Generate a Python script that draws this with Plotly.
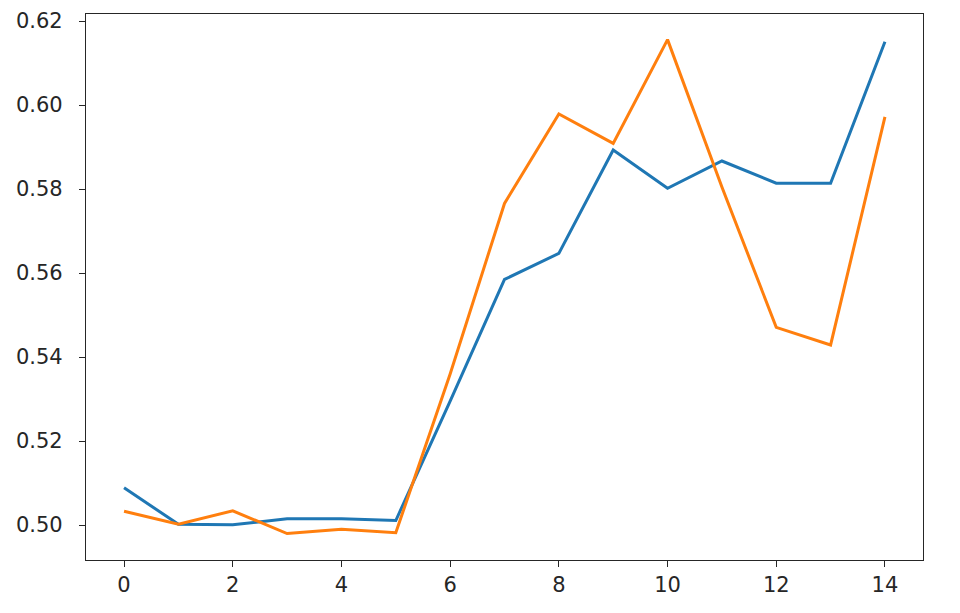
import plotly.graph_objects as go

x_vals = list(range(15))
blue_vals = [0.5089, 0.5002, 0.5001, 0.5015, 0.5015, 0.5011, 0.5295, 0.5585,
             0.5647, 0.5893, 0.5802, 0.5867, 0.5814, 0.5814, 0.6151]
orange_vals = [0.5033, 0.5002, 0.5034, 0.4980, 0.4990, 0.4982, 0.5360, 0.5766,
               0.5979, 0.5909, 0.6156, 0.5805, 0.5471, 0.5429, 0.5972]
x_ticks = [0, 2, 4, 6, 8, 10, 12, 14]
y_ticks = [0.50, 0.52, 0.54, 0.56, 0.58, 0.60, 0.62]

fig = go.Figure()
fig.add_trace(go.Scatter(x=x_vals, y=blue_vals, mode="lines",
                         line=dict(color="#1f77b4", width=3)))
fig.add_trace(go.Scatter(x=x_vals, y=orange_vals, mode="lines",
                         line=dict(color="#ff7f0e", width=3)))

axis_common = dict(showgrid=False, zeroline=False, showline=True, linecolor="#262626",
                   linewidth=1.3, mirror=True, ticks="outside", ticklen=6, tickwidth=1.3,
                   tickcolor="#262626", automargin=False,
                   tickfont=dict(family="DejaVu Sans", size=21, color="#262626"))

# page body has an 8px default margin, so the figure is sized to fit the window
fig.update_layout(
    width=952, height=605,
    margin=dict(l=78, r=37, t=6, b=53, autoexpand=False),
    paper_bgcolor="white", plot_bgcolor="white",
    showlegend=False,
    xaxis=dict(range=[-0.7, 14.7], tickvals=x_ticks,
               ticktext=[str(v) for v in x_ticks], **axis_common),
    yaxis=dict(range=[0.4917, 0.6217], tickvals=y_ticks,
               ticktext=[f"{v:.2f}" for v in y_ticks], ticklabelstandoff=12, **axis_common),
)

fig.write_html("out.html")
